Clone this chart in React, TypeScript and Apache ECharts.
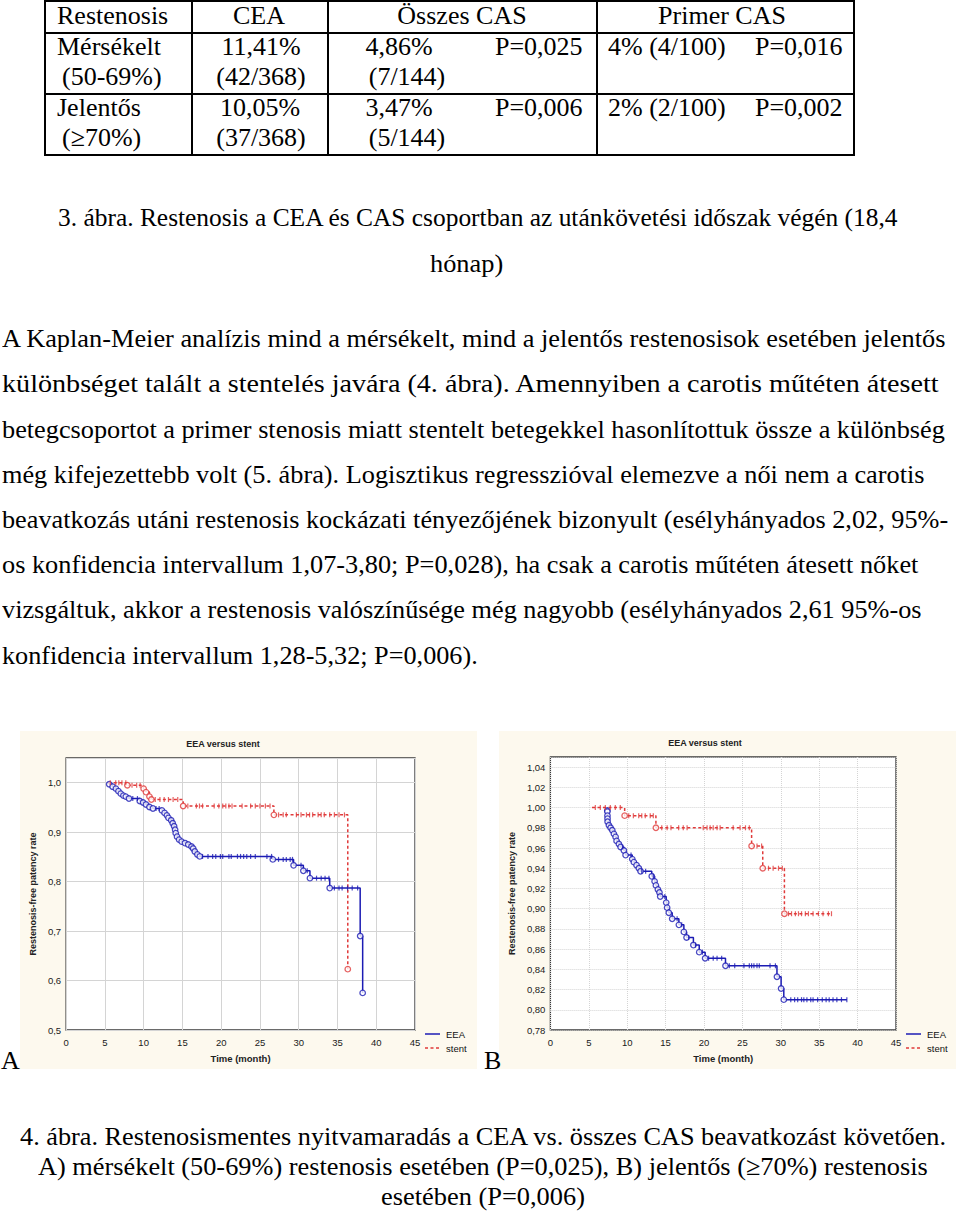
import React, { useEffect, useLayoutEffect, useRef, useState } from 'react';
import * as echarts from 'echarts';

// ---------- table data ----------
const TABLE_HEADER: [string, number, string][] = [
  ['Restenosis', 57, 'l'], ['CEA', 259, 'c'], ['Összes CAS', 462, 'c'], ['Primer CAS', 722, 'c'],
];
const TABLE_ROW1: [string, number, string][] = [
  ['Mérsékelt', 57, 'l'], ['11,41%', 261, 'c'], ['4,86%', 399, 'c'], ['P=0,025', 495, 'l'], ['4% (4/100)', 608, 'l'], ['P=0,016', 755, 'l'],
];
const TABLE_ROW1B: [string, number, string][] = [
  ['(50-69%)', 62, 'l'], ['(42/368)', 261, 'c'], ['(7/144)', 407, 'c'],
];
const TABLE_ROW2: [string, number, string][] = [
  ['Jelentős', 57, 'l'], ['10,05%', 260, 'c'], ['3,47%', 399, 'c'], ['P=0,006', 495, 'l'], ['2% (2/100)', 608, 'l'], ['P=0,002', 755, 'l'],
];
const TABLE_ROW2B: [string, number, string][] = [
  ['(≥70%)', 62, 'l'], ['(37/368)', 261, 'c'], ['(5/144)', 407, 'c'],
];
const TABLE_ROW_Y = [16, 47, 77, 108, 138];

// ---------- text ----------
// [text, left, right, centerY]
const CAPTION3: [string, number, number, number][] = [
  ['3. ábra. Restenosis a CEA és CAS csoportban az utánkövetési időszak végén (18,4', 58, 898, 218],
  ['hónap)', 430, 503, 264],
];
const PARAGRAPH: [string, number, number, number][] = [
  ['A Kaplan-Meier analízis mind a mérsékelt, mind a jelentős restenosisok esetében jelentős', 2, 945, 339],
  ['különbséget talált a stentelés javára (4. ábra). Amennyiben a carotis műtéten átesett', 2, 939, 384],
  ['betegcsoportot a primer stenosis miatt stentelt betegekkel hasonlítottuk össze a különbség', 2, 945, 430],
  ['még kifejezettebb volt (5. ábra). Logisztikus regresszióval elemezve a női nem a carotis', 2, 925, 475],
  ['beavatkozás utáni restenosis kockázati tényezőjének bizonyult (esélyhányados 2,02, 95%-', 2, 948, 520],
  ['os konfidencia intervallum 1,07-3,80; P=0,028), ha csak a carotis műtéten átesett nőket', 2, 918, 565],
  ['vizsgáltuk, akkor a restenosis valószínűsége még nagyobb (esélyhányados 2,61 95%-os', 2, 922, 610],
  ['konfidencia intervallum 1,28-5,32; P=0,006).', 2, 478, 656],
];
const CAPTION4: [string, number, number, number][] = [
  ['4. ábra. Restenosismentes nyitvamaradás a CEA vs. összes CAS beavatkozást követően.', 20, 946, 1137],
  ['A) mérsékelt (50-69%) restenosis esetében (P=0,025), B) jelentős (≥70%) restenosis', 38, 928, 1167],
  ['esetében (P=0,006)', 381, 585, 1197],
];

// ---------- chart data ----------
const CHART_TITLE = 'EEA versus stent';
const X_AXIS_NAME = 'Time (month)';
const Y_AXIS_NAME = 'Restenosis-free patency rate';
const SERIES_NAMES = ['EEA', 'stent'];

// Chart A (moderate restenosis)
const A_EEA_START: [number, number] = [5.35, 1.0];
const A_EEA_EVENTS: [number, number][] = [
  [5.56, 0.997], [6.0, 0.992], [6.42, 0.988], [6.75, 0.983], [7.05, 0.978], [7.39, 0.974], [7.7, 0.972], [8.11, 0.968],
  [9.5, 0.963], [9.93, 0.96], [10.3, 0.956], [10.75, 0.951], [11.2, 0.948], [12.36, 0.944], [12.7, 0.939], [13.0, 0.934],
  [13.2, 0.929], [13.55, 0.924], [13.75, 0.918], [13.93, 0.912], [14.06, 0.905], [14.14, 0.898], [14.31, 0.891],
  [14.57, 0.885], [14.9, 0.881], [15.33, 0.878], [15.75, 0.875], [16.17, 0.871], [16.39, 0.867], [16.6, 0.861],
  [16.93, 0.855], [17.24, 0.851], [26.66, 0.845], [29.34, 0.833], [30.6, 0.822], [31.45, 0.807], [34.0, 0.787],
  [37.93, 0.69], [38.25, 0.575],
];
const A_EEA_CENSORED = [
  8.6, 9.2, 11.6, 12.0, 17.6, 18.3, 18.9, 19.3, 19.9, 20.2, 21.0, 21.3, 22.1, 22.5, 22.9, 23.3, 23.8, 24.4, 25.9, 26.5,
  27.4, 28.0, 28.4, 28.9, 29.2, 30.3, 31.1, 32.3, 32.9, 33.4, 33.9, 34.6, 35.2, 35.6, 36.3, 36.9, 37.6,
];
const A_STENT_START: [number, number] = [5.43, 1.0];
const A_STENT_EVENTS: [number, number][] = [
  [7.9, 0.995], [10.0, 0.988], [10.3, 0.981], [10.75, 0.972], [11.0, 0.966], [15.1, 0.953], [26.8, 0.935], [36.33, 0.623],
];
const A_STENT_CENSORED = [
  5.7, 6.4, 6.8, 7.2, 7.7, 8.5, 9.1, 9.55, 11.5, 12.1, 12.65, 13.2, 13.8, 14.4, 15.7, 16.8, 17.2, 17.6, 19.1, 19.7, 20.2,
  20.6, 21.0, 21.4, 22.7, 23.8, 24.4, 25.0, 25.7, 26.3, 27.4, 28.0, 28.4, 29.7, 30.3, 31.0, 31.4, 31.8, 32.5, 32.9, 33.3,
  34.0, 34.6, 35.2, 35.9,
];

// Chart B (significant restenosis)
const B_EEA_START: [number, number] = [7.4, 1.0];
const B_EEA_EVENTS: [number, number][] = [
  [7.41, 0.997], [7.42, 0.996], [7.43, 0.992], [7.44, 0.989], [7.45, 0.986], [7.62, 0.9825], [7.84, 0.98], [8.06, 0.9775],
  [8.27, 0.974], [8.49, 0.971], [8.62, 0.967], [8.92, 0.964], [9.14, 0.961], [9.57, 0.9575], [9.79, 0.953], [10.66, 0.949],
  [10.87, 0.946], [11.22, 0.943], [11.52, 0.94], [11.74, 0.937], [13.2, 0.932], [13.57, 0.927], [13.74, 0.923],
  [14.0, 0.919], [14.2, 0.916], [14.3, 0.912], [15.08, 0.906], [15.2, 0.901], [15.42, 0.896], [15.86, 0.89],
  [16.73, 0.884], [17.38, 0.877], [17.73, 0.8715], [18.62, 0.864], [19.38, 0.857], [20.15, 0.851], [22.8, 0.8435],
  [29.5, 0.8327], [30.04, 0.821], [30.39, 0.81],
];
const B_EEA_CENSORED = [
  9.4, 10.5, 11.9, 12.4, 13.4, 14.9, 16.5, 17.1, 18.0, 18.9, 19.8, 20.6, 21.2, 21.7, 22.3, 23.3, 24.0, 25.2, 25.9, 26.2,
  26.5, 26.9, 27.2, 28.6, 29.3, 31.3, 31.8, 32.2, 32.7, 33.0, 33.4, 33.9, 34.2, 34.8, 35.4, 35.9, 36.3, 36.8, 37.3, 37.9, 38.6,
];
const B_STENT_START: [number, number] = [5.42, 1.0];
const B_STENT_EVENTS: [number, number][] = [
  [9.67, 0.992], [13.74, 0.98], [26.2, 0.962], [27.65, 0.94], [30.47, 0.895],
];
const B_STENT_CENSORED = [
  5.85, 6.5, 7.15, 7.8, 8.45, 9.1, 10.2, 10.8, 11.5, 11.9, 12.35, 13.0, 13.4, 14.5, 15.2, 15.7, 16.7, 17.3, 17.8, 19.9,
  20.4, 20.8, 21.2, 21.7, 22.1, 23.8, 24.7, 25.4, 25.9, 26.9, 27.5, 28.4, 29.0, 29.7, 30.2, 31.0, 31.4, 31.9, 32.3, 32.7,
  33.2, 33.6, 34.2, 34.9, 35.5, 36.2, 36.6,
];

const X_MIN = 0, X_MAX = 45, X_INTERVAL = 5;
const A_Y = { min: 0.5, max: 1.05, interval: 0.1, dec: 1 };
const B_Y = { min: 0.78, max: 1.05, interval: 0.02, dec: 2 };

// ---------- styling ----------
const SERIF = '"Liberation Serif", "Times New Roman", serif';
const SANS = '"Liberation Sans", Arial, sans-serif';
const BLUE = '#1c1cb4';
const RED = '#e03a3a';
const PANEL_BG = '#fdf9ee';
const DASH = [3, 2.5];

function survAt(start: [number, number], events: [number, number][], t: number) {
  let s = start[1];
  for (const [et, es] of events) if (et <= t) s = es;
  return s;
}

function kmLine(start: [number, number], events: [number, number][], censored: number[]) {
  const pts: [number, number][] = [start, ...events];
  const lastT = events[events.length - 1][0];
  const maxC = Math.max(...censored);
  if (maxC > lastT) pts.push([maxC, events[events.length - 1][1]]);
  return pts;
}

type Curve = { name: string; color: string; dashed: boolean; start: [number, number]; events: [number, number][]; censored: number[] };

function buildOption(cfg: any) {
  const series: any[] = [];
  const legendGraphics: any[] = [];
  (cfg.curves as Curve[]).forEach((c, i) => {
    series.push({
      name: c.name, type: 'line', step: 'end', symbol: 'none', showSymbol: false,
      data: kmLine(c.start, c.events, c.censored),
      lineStyle: { color: c.color, width: 1.5, type: c.dashed ? DASH : 'solid' },
      itemStyle: { color: c.color }, z: 3,
    });
    series.push({
      name: c.name + ' events', type: 'scatter', symbol: 'circle', symbolSize: 5.5,
      data: c.events,
      itemStyle: { color: '#ffffff', borderColor: c.color, borderWidth: 1.3 }, z: 4,
    });
    series.push({
      name: c.name + ' censored', type: 'scatter', symbol: 'rect', symbolSize: [1.2, 5],
      data: c.censored.map((t) => [t, survAt(c.start, c.events, t)]),
      itemStyle: { color: c.color }, z: 4,
    });
    const [lx, ly] = cfg.legendPos;
    const y = ly + i * 14;
    legendGraphics.push({
      type: 'line', shape: { x1: lx, y1: y, x2: lx + 15, y2: y },
      style: { stroke: c.color, lineWidth: 1.5, lineDash: c.dashed ? DASH : null },
    });
    legendGraphics.push({
      type: 'text', x: lx + 21, y,
      style: { text: SERIES_NAMES[i], font: `9.5px ${SANS}`, fill: '#111', align: 'left', verticalAlign: 'middle' },
    });
  });
  return {
    animation: false,
    backgroundColor: PANEL_BG,
    textStyle: { fontFamily: SANS },
    grid: { ...cfg.grid, show: true, backgroundColor: '#ffffff', borderColor: '#3a3a3a', borderWidth: 1.3, containLabel: false },
    graphic: [
      {
        type: 'text', x: cfg.titlePos[0], y: cfg.titlePos[1],
        style: { text: CHART_TITLE, font: `bold 9px ${SANS}`, fill: '#222', align: 'center', verticalAlign: 'middle' },
      },
      ...legendGraphics,
    ],
    xAxis: {
      type: 'value', min: X_MIN, max: X_MAX, interval: X_INTERVAL,
      axisLine: { show: false }, axisTick: { show: false },
      axisLabel: { margin: 7, fontSize: 9.5, color: '#1a1a1a', fontFamily: SANS },
      splitLine: { lineStyle: { color: '#d4d4d4', width: 1, type: cfg.gridType } },
      name: X_AXIS_NAME, nameLocation: 'middle', nameGap: 23,
      nameTextStyle: { fontWeight: 'bold', fontSize: 9.5, color: '#222', fontFamily: SANS },
    },
    yAxis: {
      type: 'value', min: cfg.y.min, max: cfg.y.max, interval: cfg.y.interval,
      axisLine: { show: false }, axisTick: { show: false },
      axisLabel: {
        margin: 5, fontSize: 9.5, color: '#1a1a1a', fontFamily: SANS, showMaxLabel: false,
        formatter: (v: number) => v.toFixed(cfg.y.dec).replace('.', ','),
      },
      splitLine: { lineStyle: { color: '#d4d4d4', width: 1, type: cfg.gridType } },
      name: Y_AXIS_NAME, nameLocation: 'middle', nameGap: cfg.yNameGap,
      nameTextStyle: { fontWeight: 'bold', fontSize: 9, color: '#222', fontFamily: SANS },
    },
    series,
  };
}

function KMChart({ cfg, style }: { cfg: any; style: React.CSSProperties }) {
  const ref = useRef<HTMLDivElement>(null);
  useEffect(() => {
    const chart = echarts.init(ref.current!, null, { renderer: 'svg' });
    chart.setOption(buildOption(cfg));
    return () => chart.dispose();
  }, []);
  return <div ref={ref} style={style} />;
}

const CHART_A_CFG = {
  y: A_Y, gridType: 'solid', yNameGap: 29,
  grid: { left: 41, top: 27, right: 62, bottom: 39 },
  titlePos: [203, 13], legendPos: [405, 303],
  curves: [
    { name: 'EEA', color: BLUE, dashed: false, start: A_EEA_START, events: A_EEA_EVENTS, censored: A_EEA_CENSORED },
    { name: 'stent', color: RED, dashed: true, start: A_STENT_START, events: A_STENT_EVENTS, censored: A_STENT_CENSORED },
  ],
};
const CHART_B_CFG = {
  y: B_Y, gridType: 'dotted', yNameGap: 33,
  grid: { left: 51, top: 26, right: 60, bottom: 39 },
  titlePos: [206, 12], legendPos: [407, 303],
  curves: [
    { name: 'EEA', color: BLUE, dashed: false, start: B_EEA_START, events: B_EEA_EVENTS, censored: B_EEA_CENSORED },
    { name: 'stent', color: RED, dashed: true, start: B_STENT_START, events: B_STENT_EVENTS, censored: B_STENT_CENSORED },
  ],
};

const FS = 26;
const LH = 30;

function Cell({ text, x, y, align }: { text: string; x: number; y: number; align: string }) {
  const base: React.CSSProperties = { position: 'absolute', top: y - 15, fontSize: FS, lineHeight: `${LH}px`, whiteSpace: 'nowrap' };
  if (align === 'c') return <div style={{ ...base, left: x - 200, width: 400, textAlign: 'center' }}>{text}</div>;
  return <div style={{ ...base, left: x }}>{text}</div>;
}

// A line of text stretched/compressed horizontally to span [left, right]
function FitText({ text, left, right, y }: { text: string; left: number; right: number; y: number }) {
  const ref = useRef<HTMLSpanElement>(null);
  const [scale, setScale] = useState(1);
  useLayoutEffect(() => {
    const measure = () => {
      const el = ref.current;
      if (!el) return;
      const w = el.offsetWidth;
      if (w > 0) setScale((right - left) / w);
    };
    measure();
    if ((document as any).fonts && (document as any).fonts.ready) (document as any).fonts.ready.then(measure);
  }, []);
  return (
    <div style={{ position: 'absolute', left, top: y - 15, fontSize: FS, lineHeight: `${LH}px`, whiteSpace: 'nowrap' }}>
      <span ref={ref} style={{ display: 'inline-block', transform: `scaleX(${scale})`, transformOrigin: 'left center' }}>{text}</span>
    </div>
  );
}

function Line({ x1, y1, x2, y2 }: { x1: number; y1: number; x2: number; y2: number }) {
  return <div style={{ position: 'absolute', left: Math.min(x1, x2), top: Math.min(y1, y2), width: Math.max(1.5, Math.abs(x2 - x1)), height: Math.max(1.5, Math.abs(y2 - y1)), background: '#000' }} />;
}

export default function App() {
  const rows = [TABLE_HEADER, TABLE_ROW1, TABLE_ROW1B, TABLE_ROW2, TABLE_ROW2B];
  const vx = [44, 191, 327, 596, 853];
  const hy = [0, 32, 93, 154];
  const lines = [...CAPTION3, ...PARAGRAPH, ...CAPTION4];
  return (
    <div style={{ position: 'absolute', left: 0, top: 0, width: 960, height: 1213, background: '#fff', fontFamily: SERIF, color: '#000', overflow: 'hidden' }}>
      {/* table */}
      {hy.map((y, i) => <Line key={'h' + i} x1={vx[0]} y1={y} x2={vx[vx.length - 1] + 1.5} y2={y} />)}
      {vx.map((x, i) => <Line key={'v' + i} x1={x} y1={0} x2={x} y2={hy[hy.length - 1] + 1.5} />)}
      {rows.map((r, ri) => r.map((c, ci) => <Cell key={ri + '-' + ci} text={c[0]} x={c[1]} y={TABLE_ROW_Y[ri]} align={c[2]} />))}

      {/* captions and paragraph */}
      {lines.map(([t, l, r, y], i) => <FitText key={'t' + i} text={t} left={l} right={r} y={y} />)}

      {/* charts */}
      <KMChart cfg={CHART_A_CFG} style={{ position: 'absolute', left: 20, top: 731, width: 457, height: 338 }} />
      <KMChart cfg={CHART_B_CFG} style={{ position: 'absolute', left: 499, top: 731, width: 457, height: 338 }} />
      <div style={{ position: 'absolute', left: 1, top: 1046, fontSize: FS, lineHeight: `${LH}px` }}>A</div>
      <div style={{ position: 'absolute', left: 484, top: 1046, fontSize: FS, lineHeight: `${LH}px` }}>B</div>
    </div>
  );
}
